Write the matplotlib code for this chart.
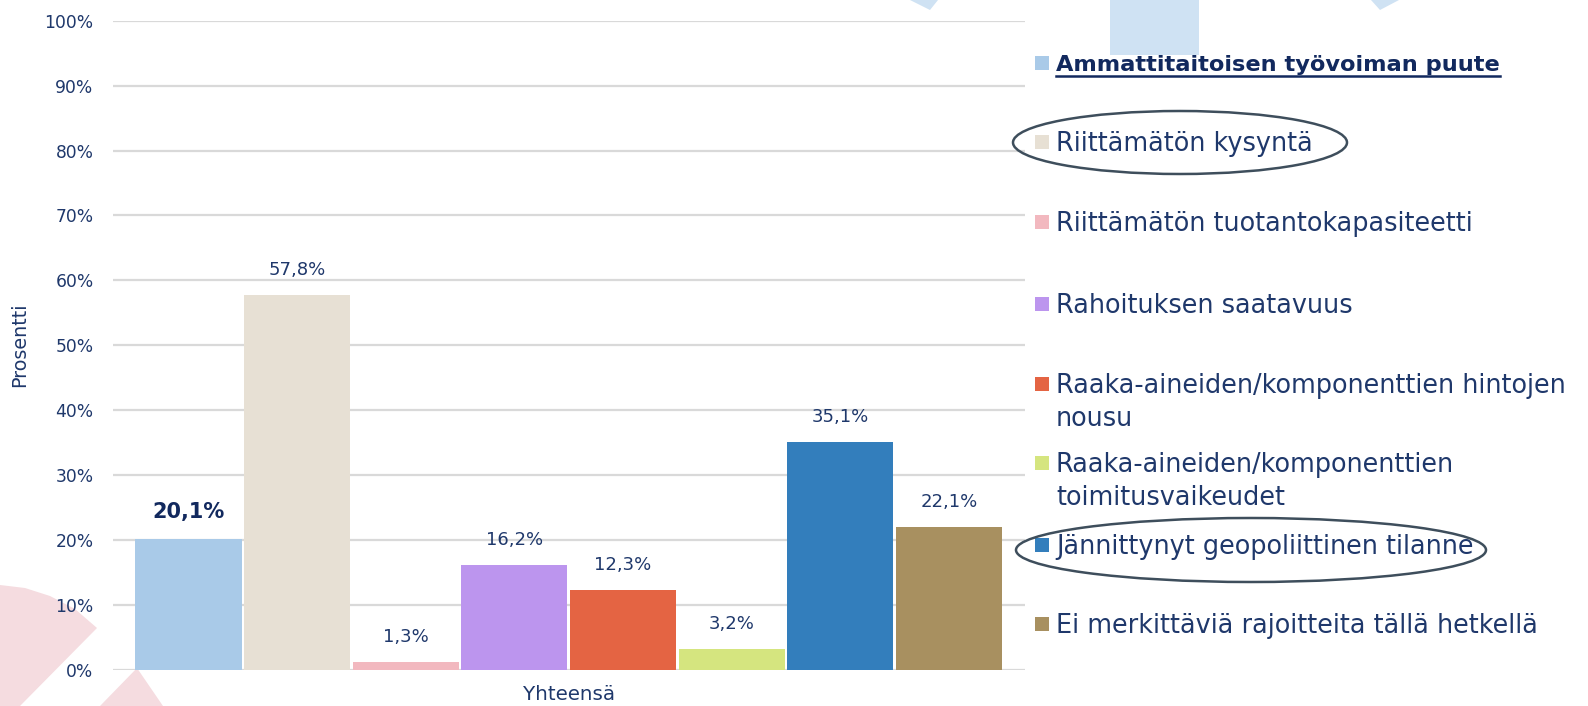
import matplotlib
matplotlib.use("Agg")
import matplotlib.pyplot as plt
from matplotlib.patches import Polygon, Rectangle, Ellipse
from matplotlib.lines import Line2D
import numpy as np

# ---- data ----
categories = [
    "Ammattitaitoisen työvoiman puute",
    "Riittämätön kysyntä",
    "Riittämätön tuotantokapasiteetti",
    "Rahoituksen saatavuus",
    "Raaka-aineiden/komponenttien hintojen\nnousu",
    "Raaka-aineiden/komponenttien\ntoimitusvaikeudet",
    "Jännittynyt geopoliittinen tilanne",
    "Ei merkittäviä rajoitteita tällä hetkellä",
]
values = [20.1, 57.8, 1.3, 16.2, 12.3, 3.2, 35.1, 22.1]
colors = ["#A9CAE8", "#E7E0D4", "#F2B8BF", "#BC95EE",
          "#E46443", "#D5E57F", "#337EBC", "#A89060"]
group_label = "Yhteensä"
y_label = "Prosentti"
yticks = list(range(0, 101, 10))
highlight_index = 0          # bold / underlined entry
circled_indices = [1, 6]     # circled legend entries

NAVY = "#1F386B"
DARK = "#12295E"
FONT = "DejaVu Sans"
plt.rcParams["font.family"] = [FONT]

W, H = 1588, 706
fig = plt.figure(figsize=(W / 100, H / 100), dpi=100)

# background decorations (pixel coordinates)
bg = fig.add_axes([0, 0, 1, 1], zorder=0)
bg.set_xlim(0, W); bg.set_ylim(H, 0); bg.axis("off")
PINK = "#F5DCE0"; LBLUE = "#CFE2F3"
bg.add_patch(Polygon([(0, 585), (25, 588), (50, 596), (75, 609), (97, 628),
                      (20, 706), (0, 706)], closed=True, color=PINK, lw=0))
bg.add_patch(Polygon([(137, 668), (100, 706), (163, 706)], closed=True,
                     color=PINK, lw=0))
bg.add_patch(Polygon([(910, 0), (938, 0), (930, 10)], closed=True,
                     color=LBLUE, lw=0))
bg.add_patch(Polygon([(1371, 0), (1399, 0), (1380, 10)], closed=True,
                     color=LBLUE, lw=0))
bg.add_patch(Rectangle((1110, 0), 89, 55, color=LBLUE, lw=0))

# main axes
ax = fig.add_axes([113 / W, (H - 670) / H, 912 / W, 649.3 / H], zorder=1)
ax.patch.set_alpha(0)
x = np.arange(len(values))
ax.bar(x, values, width=0.977, color=colors, zorder=2)
ax.set_ylim(0, 100)
ax.set_xlim(-0.5 - 0.195, len(values) - 0.5 + 0.2)
ax.set_yticks(yticks)
ax.set_yticklabels([f"{t}%" for t in yticks])
ax.yaxis.grid(True, color="#D9D9D9", linewidth=1.6)
ax.set_axisbelow(True)
for s in ax.spines.values():
    s.set_visible(False)
ax.tick_params(axis="y", length=0, pad=14, labelsize=12.3, labelcolor=NAVY)
ax.set_xticks([(len(values) - 1) / 2])
ax.set_xticklabels([group_label])
ax.tick_params(axis="x", length=0, pad=11, labelsize=14.3, labelcolor=NAVY)

for i, v in enumerate(values):
    lab = f"{v:.1f}".replace(".", ",") + "%"
    if i == highlight_index:
        ax.annotate(lab, (x[i], v), xytext=(0, 20), textcoords="offset points",
                    ha="center", va="center", fontsize=15, fontweight="bold",
                    color=DARK)
    else:
        ax.annotate(lab, (x[i], v), xytext=(0, 18), textcoords="offset points",
                    ha="center", va="center", fontsize=13, color=NAVY)

fig.text(20 / W, 1 - 345 / H, y_label, rotation=90, ha="center", va="center",
         fontsize=13.8, color=NAVY)

# legend overlay (pixel coordinates)
ov = fig.add_axes([0, 0, 1, 1], zorder=3)
ov.set_xlim(0, W); ov.set_ylim(H, 0); ov.axis("off")
ov.patch.set_alpha(0)
row_y = [62.8, 141.8, 221.8, 303.8, 384, 463, 545, 624]
line_gap = 33
texts = []
for i, (cat, col, yy) in enumerate(zip(categories, colors, row_y)):
    ov.add_patch(Rectangle((1034.5, yy - 7), 14, 14, color=col, lw=0))
    for j, line in enumerate(cat.split("\n")):
        if i == highlight_index:
            t = ov.text(1056, yy + 8.5 + j * line_gap, line, ha="left",
                        va="baseline", fontsize=16.2, fontweight="bold",
                        color=DARK)
            texts.append(t)
        else:
            ov.text(1056, yy + 9 + j * line_gap, line, ha="left",
                    va="baseline", fontsize=18.4, color=NAVY)

ov.add_patch(Ellipse((1180, 142.5), 334, 63, fill=False, ec="#3E4E5C", lw=1.8))
ov.add_patch(Ellipse((1251, 550), 470, 64, fill=False, ec="#3E4E5C", lw=1.8))

fig.canvas.draw()
for t in texts:
    bb = t.get_window_extent()
    yb = row_y[highlight_index] + 13
    ov.add_line(Line2D([bb.x0, bb.x1], [yb, yb], color=DARK, lw=1.8))

fig.savefig("out.png", dpi=100)
